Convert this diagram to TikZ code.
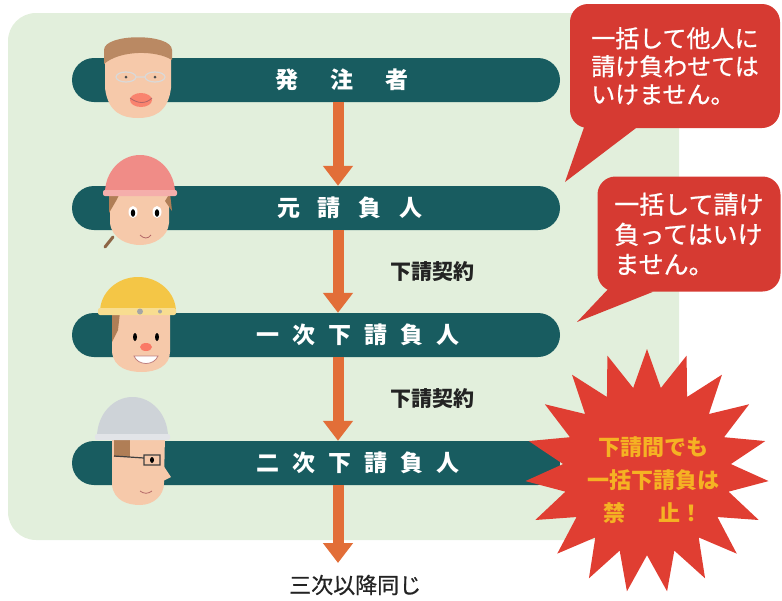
\documentclass[tikz,border=0pt]{standalone}
\usepackage{fontspec}
\setmainfont{Noto Sans CJK JP}
\usepackage{tikz}
\usetikzlibrary{shapes.geometric, shapes.misc, arrows.meta}
\usetikzlibrary{calc}
\usetikzlibrary{positioning}

\definecolor{bggreen}{RGB}{226,239,220}
\definecolor{barteal}{RGB}{24,92,96}
\definecolor{floworange}{RGB}{226,110,56}
\definecolor{bubblered}{RGB}{214,58,50}
\definecolor{burstred}{RGB}{224,62,50}
\definecolor{burstyellow}{RGB}{245,178,35}
\definecolor{skin}{RGB}{246,201,170}
\definecolor{hairbrown}{RGB}{176,126,86}
\definecolor{helmetpink}{RGB}{240,140,135}
\definecolor{helmetyellow}{RGB}{244,198,70}
\definecolor{helmetgrey}{RGB}{206,211,216}
\definecolor{textgrey}{RGB}{35,35,35}

\tikzset{
  bar/.style={rounded rectangle, fill=barteal, minimum width=488pt,
    minimum height=44pt, inner sep=0pt},
  bartext/.style={text=white, inner sep=0pt,
    font=\fontsize{23}{23}\selectfont\bfseries},
  flow/.style={draw=floworange, line width=11pt,
    -{Triangle[width=29pt,length=20pt]}},
  keiyaku/.style={text=textgrey, inner sep=0pt,
    font=\fontsize{21}{21}\selectfont\bfseries},
  bubble/.style={fill=bubblered, rounded corners=18pt, text=white,
    align=left, inner sep=0pt},
  burst/.style={star, star points=19, star point ratio=1.45,
    fill=burstred, minimum size=244pt, inner sep=0pt},
  bursttext/.style={text=burstyellow, align=center, inner sep=0pt,
    font=\fontsize{22}{33}\selectfont\bfseries},
}

\begin{document}
\begin{tikzpicture}[x=1pt, y=-1pt]
  \useasboundingbox (0,0) rectangle (782,600);
  \fill[bggreen, rounded corners=28pt] (8,13) rectangle (679,540);

  % parties
  \node[bar, label={[bartext, xshift=26pt]center:発\hspace{32pt}注\hspace{32pt}者}] (hatchu) at (316,80) {};
  \node[bar, label={[bartext, xshift=34pt]center:元\hspace{18pt}請\hspace{18pt}負\hspace{18pt}人}] (moto) at (316,208) {};
  \node[bar, label={[bartext, xshift=42pt]center:一\hspace{13pt}次\hspace{13pt}下\hspace{13pt}請\hspace{13pt}負\hspace{13pt}人}] (ichiji) at (316,335) {};
  \node[bar, label={[bartext, xshift=42pt]center:二\hspace{13pt}次\hspace{13pt}下\hspace{13pt}請\hspace{13pt}負\hspace{13pt}人}] (niji) at (316,463) {};

  % arrows between them
  \draw[flow] ([xshift=22pt]hatchu.south) -- ([xshift=22pt]moto.north);
  \draw[flow] ([xshift=22pt]moto.south) -- node[keiyaku, right=47pt] (keiyaku1) {下請契約} ([xshift=22pt]ichiji.north);
  \draw[flow] ([xshift=22pt]ichiji.south) -- node[keiyaku, right=47pt] (keiyaku2) {下請契約} ([xshift=22pt]niji.north);
  \coordinate (ikou) at (338,563);
  \draw[flow] ([xshift=22pt]niji.south) -- (ikou);
  \node[keiyaku, anchor=west, font=\fontsize{22}{22}\selectfont\addfontfeature{FakeBold=0.6}] (sanji) at (289,585) {三次以降同じ};

  % client: glasses, brown hair
  \begin{scope}[shift={(138,78)}]
    \fill[skin] (-33,-28) -- (-33,10) .. controls (-30,35) and (-15,40) .. (0,40)
      .. controls (15,40) and (30,35) .. (33,10) -- (33,-28)
      .. controls (33,-42) and (-33,-42) .. (-33,-28) -- cycle;
    \fill[hairbrown!85!skin] (-34,-14) -- (-34,-28) .. controls (-34,-45) and (34,-45) .. (34,-28)
      -- (34,-18) .. controls (18,-28) and (-18,-28) .. (-34,-14) -- cycle;
    \draw[white!70!gray, line width=1.2pt] (-12,-1) ellipse[x radius=10, y radius=5]
      (17,-1) ellipse[x radius=10, y radius=5] (-2,-1) -- (7,-1);
    \fill[black!70] (-12,-1) circle[radius=1.5] (17,-1) circle[radius=1.5];
    \fill[red!35!skin] (3,22) ellipse[x radius=11, y radius=7];
    \draw[red!50!black!60, line width=0.8pt] (-8,20) .. controls (0,26) and (8,26) .. (14,20);
  \end{scope}

  % prime contractor: pink helmet
  \begin{scope}[shift={(140,205)}]
    \fill[skin] (-30,-14) -- (-30,18) .. controls (-28,34) and (-12,40) .. (0,40)
      .. controls (14,40) and (28,32) .. (29,18) -- (29,-14) -- cycle;
    \fill[hairbrown] (-31,-12) -- (-31,8) -- (-24,-4) -- (-20,-12) -- cycle;
    \fill[hairbrown] (30,-12) -- (32,6) -- (25,-4) -- cycle;
    \draw[hairbrown!80!black, line width=3pt, line cap=round] (-27,32) -- (-35,42);
    \fill[helmetpink] (-35,-12) arc[start angle=180, end angle=360, x radius=35, y radius=38] -- cycle;
    \fill[helmetpink!70!white, rounded corners=2pt] (-37,-15) rectangle (37,-9);
    \fill[white] (-7,7) ellipse[x radius=4.5, y radius=6] (17,7) ellipse[x radius=4.5, y radius=6];
    \fill[black] (-7,8) ellipse[x radius=2.2, y radius=3.8] (17,8) ellipse[x radius=2.2, y radius=3.8];
    \draw[red!50!black!60, line width=0.8pt] (0,30) .. controls (4,34) and (8,34) .. (11,30);
  \end{scope}

  % first-tier subcontractor: yellow helmet
  \begin{scope}[shift={(140,330)}]
    \fill[skin] (-28,-22) -- (-28,22) .. controls (-26,38) and (-12,42) .. (2,42)
      .. controls (16,42) and (30,36) .. (30,22) -- (30,-22) -- cycle;
    \fill[hairbrown] (-28,-18) -- (-28,12) -- (-22,0) -- (-20,-18) -- cycle;
    \fill[helmetyellow] (-40,-18) arc[start angle=180, end angle=360, x radius=38, y radius=35] -- cycle;
    \fill[helmetyellow!60!white, rounded corners=2pt] (-42,-22) rectangle (36,-15);
    \fill[gray!70] (0,-18.5) circle[radius=3] (20,-18.5) circle[radius=2];
    \fill[black] (-5,7) ellipse[x radius=2, y radius=4] (17,7) ellipse[x radius=2, y radius=4];
    \fill[red!40!skin] (6,17) ellipse[x radius=6, y radius=4];
    \fill[white] (-6,26) .. controls (-2,36) and (14,36) .. (18,26) -- cycle;
    \draw[red!50!black!50, line width=0.8pt] (-6,26) .. controls (-2,36) and (14,36) .. (18,26) -- cycle;
  \end{scope}

  % second-tier subcontractor: grey helmet, glasses
  \begin{scope}[shift={(138,455)}]
    \fill[skin] (-26,-20) -- (-26,30) .. controls (-24,46) and (-10,50) .. (2,50)
      .. controls (16,50) and (26,40) .. (26,28) -- (27,-20) -- cycle;
    \fill[skin] (25,10) -- (33,22) -- (25,26) -- cycle;
    \fill[hairbrown] (-24,-18) rectangle (-8,2);
    \fill[helmetgrey] (-41,-18) arc[start angle=180, end angle=360, x radius=35.5, y radius=40] -- cycle;
    \fill[helmetgrey!60!white, rounded corners=2pt] (-43,-21) rectangle (32,-15);
    \draw[black!75, line width=1.2pt] (6,0) rectangle (22,10) (6,3) -- (-24,1);
    \fill[black] (14,5) ellipse[x radius=2, y radius=3];
    \draw[red!50!black!60, line width=0.8pt] (2,36) .. controls (6,39) and (10,39) .. (14,36);
  \end{scope}

  % warnings
  \node[bubble, minimum width=210pt, minimum height=124pt,
    font=\fontsize{24}{28}\selectfont\addfontfeature{FakeBold=0.8}] (bubble1) at (675,66)
    {一括して他人に\\請け負わせては\\いけません。};
  \coordinate (tip1) at (565,182);
  \fill[bubblered] ([xshift=16pt,yshift=6pt]bubble1.south west) -- (tip1)
    -- ([xshift=66pt]bubble1.south west) -- cycle;

  \node[bubble, minimum width=183pt, minimum height=115pt,
    font=\fontsize{25}{30}\selectfont\addfontfeature{FakeBold=0.8}] (bubble2) at (689,234)
    {一括して請け\\負ってはいけ\\ません。};
  \coordinate (tip2) at (577,322);
  \fill[bubblered] ([xshift=14pt,yshift=6pt]bubble2.south west) -- (tip2)
    -- ([xshift=56pt]bubble2.south west) -- cycle;

  \node[burst] (kinshi) at (647,471) {};
  \node[bursttext] (kinshitext) at (653,480)
    {下請間でも\\一括下請負は\\禁\hspace{1.5em}止！};
\end{tikzpicture}
\end{document}
